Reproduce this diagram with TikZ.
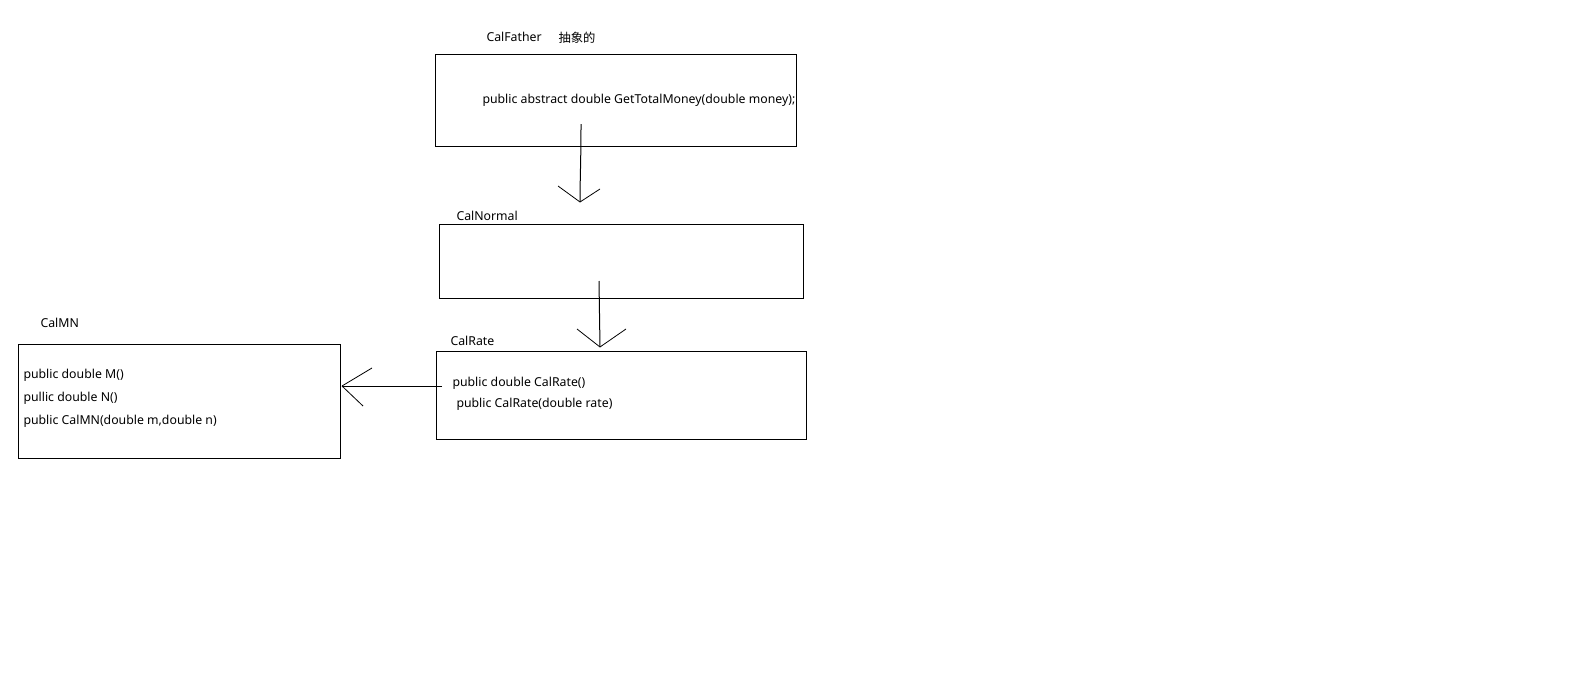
\documentclass[tikz,border=0pt]{standalone}
\usepackage{fontspec}
\setmainfont{Noto Sans}
\newfontfamily\cjk{Noto Sans CJK SC}
\begin{document}
\begin{tikzpicture}[x=1pt,y=-1pt,line width=1pt,
  classbox/.style={draw,inner sep=0pt},
  txt/.style={anchor=west,inner sep=0pt,font=\fontsize{12.3}{14}\selectfont},
  barb/.style={line width=0.8pt}]
\useasboundingbox[fill=white] (0,0) rectangle (1594,672);

% class boxes
\node[classbox,minimum width=361pt,minimum height=92pt] (father) at (615.5,100) {};
\node[classbox,minimum width=364pt,minimum height=74pt] (normal) at (621,261) {};
\node[classbox,minimum width=370pt,minimum height=88pt] (rate) at (621,395) {};
\node[classbox,minimum width=322pt,minimum height=114pt] (mn) at (179,401) {};

% class names
\node[txt] (lfather) at (486,37) {CalFather};
\node[txt] (labs) at (558,38) {\cjk 抽象的};
\node[txt] (lnormal) at (456,216) {CalNormal};
\node[txt] (lrate) at (450,341) {CalRate};
\node[txt] (lmn) at (40,323) {CalMN};

% members
\node[txt] (m1) at (482,100) {public abstract double GetTotalMoney(double money);};
\node[txt] (m2) at (452,383) {public double CalRate()};
\node[txt] (m3) at (456,404) {public CalRate(double rate)};
\node[txt] (m4) at (23,375) {public double M()};
\node[txt] (m5) at (23,398) {pullic double N()};
\node[txt] (m6) at (23,421) {public CalMN(double m,double n)};

% connector end points
\coordinate (s1) at (581,124);
\coordinate (t1) at (580,202);
\coordinate (s2) at (599,281);
\coordinate (t2) at (600,347);
\coordinate (s3) at (442,386);
\coordinate (t3) at (342,386);

% inheritance arrows with open barbs
\draw (s1) .. controls (581,160) and (580,180) .. (t1);
\draw[barb] (t1) -- +(-22,-16);
\draw[barb] (t1) -- +(20,-13);
\draw (s2) -- (t2);
\draw[barb] (t2) -- +(-23,-18);
\draw[barb] (t2) -- +(26,-18);
\draw (s3) -- (t3);
\draw[barb] (t3) -- +(30,-18);
\draw[barb] (t3) -- +(21,20);
\end{tikzpicture}
\end{document}
